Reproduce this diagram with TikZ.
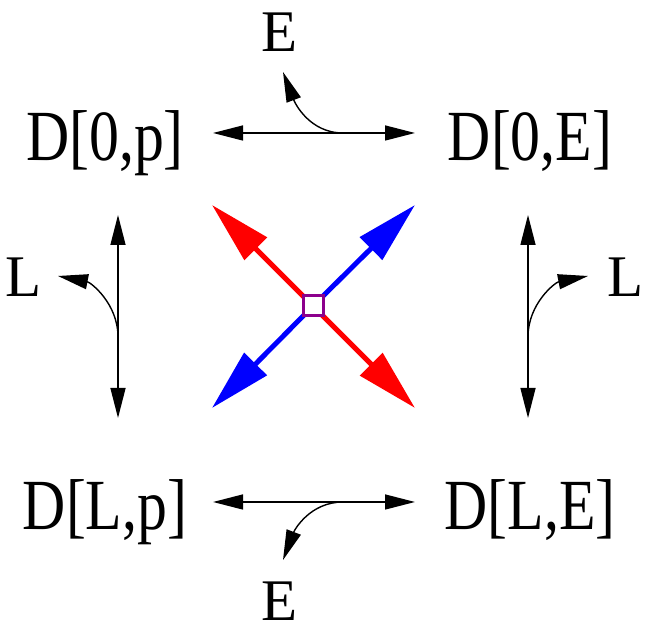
\documentclass[tikz,border=0pt]{standalone}
\usepackage{fontspec}
\setmainfont{Liberation Serif}
\newfontfamily\statefont[FakeStretch=0.83]{Liberation Serif}
\usetikzlibrary{arrows.meta}
\definecolor{hubpurple}{RGB}{140,0,140}

\begin{document}
\begin{tikzpicture}[x=1pt, y=1pt,
  state/.style={font=\fontsize{72}{74}\statefont, anchor=base, inner sep=0pt},
  param/.style={font=\fontsize{59}{61}\selectfont, anchor=base, inner sep=0pt},
  trans/.style={line width=1.4pt, {Triangle[length=30pt,width=15pt]}-{Triangle[length=30pt,width=15pt]}},
  branch/.style={line width=1.4pt, -{Triangle[length=30pt,width=15pt]}},
  move/.style={line width=5pt, -{Triangle[length=62pt,width=31pt]}}]
\useasboundingbox (0,0) rectangle (645,628);

% states at the corners
\node[state] (d0p) at (105,467) {D[0,p]};
\node[state] (d0E) at (530,467) {D[0,E]};
\node[state] (dLp) at (105,98) {D[L,p]};
\node[state] (dLE) at (530,98) {D[L,E]};

% parameter labels
\node[param] (eTop) at (280,576) {E};
\node[param] (eBot) at (280,7) {E};
\node[param] (lLeft) at (24,331) {L};
\node[param] (lRight) at (626,331) {L};

% ends of the transitions
\coordinate (topW) at (213,495);
\coordinate (topE) at (415,495);
\coordinate (botW) at (213,126);
\coordinate (botE) at (415,126);
\coordinate (lftN) at (118,413);
\coordinate (lftS) at (118,210);
\coordinate (rgtN) at (528,413);
\coordinate (rgtS) at (528,210);

\draw[trans] (topW) -- (topE);
\draw[trans] (botW) -- (botE);
\draw[trans] (lftN) -- (lftS);
\draw[trans] (rgtN) -- (rgtS);

% branches towards E and L
\coordinate (topFork) at (343,495);
\coordinate (topTip) at (283,556);
\coordinate (botFork) at (343,126);
\coordinate (botTip) at (283,68);
\coordinate (lftFork) at (118,291);
\coordinate (lftTip) at (58,352);
\coordinate (rgtFork) at (528,291);
\coordinate (rgtTip) at (588,352);

\draw[branch] (topFork) to[out=180, in=-69] (topTip);
\draw[branch] (botFork) to[out=180, in=69] (botTip);
\draw[branch] (lftFork) to[out=90, in=-11] (lftTip);
\draw[branch] (rgtFork) to[out=90, in=191] (rgtTip);

% the cross in the middle
\coordinate (mid) at (313,322);
\coordinate (nw) at (212,423);
\coordinate (ne) at (415,423);
\coordinate (sw) at (212,220);
\coordinate (se) at (415,220);
\draw[move, red] (mid) -- (nw);
\draw[move, red] (mid) -- (se);
\draw[move, blue] (mid) -- (ne);
\draw[move, blue] (mid) -- (sw);
\node[draw=hubpurple, fill=white, line width=3pt, minimum size=20pt, inner sep=0pt] (hub) at (mid) {};
\end{tikzpicture}
\end{document}
